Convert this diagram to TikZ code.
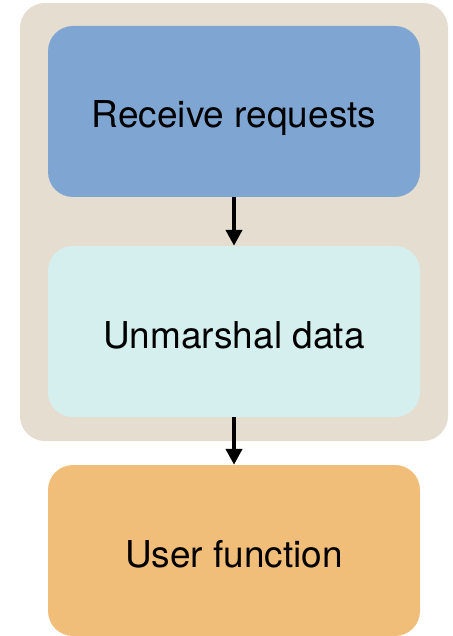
\documentclass[tikz,border=0pt]{standalone}
\usepackage{fontspec}
\setmainfont{TeX Gyre Heros}
\usetikzlibrary{arrows.meta}
\definecolor{panel}{RGB}{229,222,208}
\definecolor{recvblue}{RGB}{127,166,211}
\definecolor{unmcyan}{RGB}{213,239,239}
\definecolor{userorange}{RGB}{241,190,122}
\def \cx{234}

\begin{document}
\begin{tikzpicture}[x=1pt, y=-1pt,
    stage/.style={shape=rectangle, rounded corners=25pt, minimum width=372pt,
      minimum height=171pt, inner sep=0pt, text height=33pt, text depth=0pt,
      font=\fontsize{37}{44}\selectfont},
    flow/.style={-{Triangle[width=16pt,length=16pt]}, line width=4pt}]
    \useasboundingbox (0,0) rectangle (452,636);
    % the server side
    \fill[panel, rounded corners=25pt] (20,3) rectangle (448,441);
    \node[stage, fill=recvblue] (Recv) at (\cx, 111.5) {Receive requests};
    \node[stage, fill=unmcyan] (Unm) at (\cx, 331.5) {Unmarshal data};
    \node[stage, fill=userorange] (User) at (\cx, 550.5) {User function};
    \path[flow] (Recv) edge (Unm);
    \path[flow] (Unm) edge (User);
  \end{tikzpicture}
\end{document}
